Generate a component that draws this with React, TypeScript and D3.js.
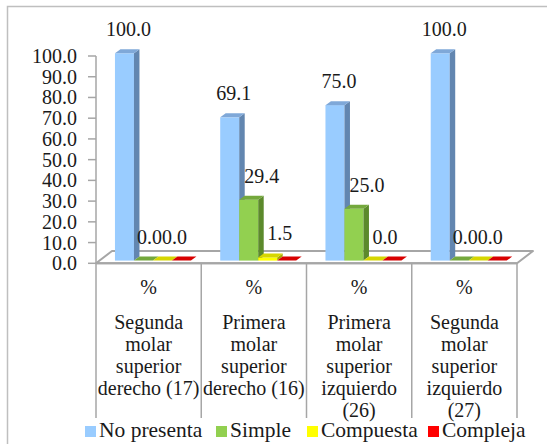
import React, { useEffect, useRef } from "react";
import * as d3 from "d3";

const categories = [
  "Segunda molar superior derecho (17)",
  "Primera molar superior derecho (16)",
  "Primera molar superior izquierdo (26)",
  "Segunda molar superior izquierdo (27)",
];
const categoryLines = [
  ["Segunda", "molar", "superior", "derecho (17)"],
  ["Primera", "molar", "superior", "derecho (16)"],
  ["Primera", "molar", "superior", "izquierdo", "(26)"],
  ["Segunda", "molar", "superior", "izquierdo", "(27)"],
];
const unitLabel = "%";
const series = ["No presenta", "Simple", "Compuesta", "Compleja"];
const noPresenta = [100.0, 69.1, 75.0, 100.0];
const simple = [0.0, 29.4, 25.0, 0.0];
const compuesta = [0.0, 1.5, 0.0, 0.0];
const compleja = [0.0, 0.0, 0.0, 0.0];
const yTicks = [0, 10, 20, 30, 40, 50, 60, 70, 80, 90, 100];
const showLabel = [true, true, true, false];

const values = [noPresenta, simple, compuesta, compleja];
const colors = [
  { front: "#99CCFF", top: "#7FA8D8", side: "#6286B0" },
  { front: "#92D050", top: "#74A83C", side: "#5C8A2C" },
  { front: "#FFFF00", top: "#D6D600", side: "#A8A800" },
  { front: "#FF0000", top: "#D80000", side: "#A00000" },
];

export default function App() {
  const ref = useRef<SVGSVGElement>(null);

  useEffect(() => {
    const svg = d3.select(ref.current);
    svg.selectAll("*").remove();
    const g = svg.append("g");
    const T = (sel: any) =>
      sel.attr("font-family", "Liberation Serif").style("font-family", "Liberation Serif").attr("fill", "#1a1a1a");

    const x0 = 96, x1 = 517;
    const y = d3.scaleLinear().domain([0, 100]).range([263.3, 56]);
    const xc = d3.scaleBand().domain(categories).range([x0, x1]);
    const bw = xc.bandwidth();
    const xs = d3.scaleBand().domain(series).range([bw * 0.146, bw * 0.146 + 76]);
    const w = xs.bandwidth();
    const floorD = { dx: 16, dy: -12.3 };
    const barFront = { dx: 3.6, dy: -2.7 };
    const barD = { dx: 5.5, dy: -4 };
    const labelOff = [4, 13, 12, 12];
    const grid = "#A6A6A6";
    const pts = (a: number[][]) => a.map((p) => p.join(",")).join(" ");

    g.append("rect").attr("width", 547).attr("height", 444).attr("fill", "#fff");
    g.append("rect").attr("x", 7.5).attr("y", 6.5).attr("width", 600).attr("height", 600)
      .attr("fill", "none").attr("stroke", "#BFBFBF").attr("stroke-width", 1.5);

    g.append("polygon")
      .attr("points", pts([
        [x0, y(0)], [x1, y(0)],
        [x1 + floorD.dx, y(0) + floorD.dy], [x0 + floorD.dx, y(0) + floorD.dy],
      ]))
      .attr("fill", "#fff").attr("stroke", grid).attr("stroke-width", 2).attr("stroke-linejoin", "round");

    g.append("line").attr("x1", x0).attr("x2", x0).attr("y1", y(100)).attr("y2", y(0))
      .attr("stroke", grid).attr("stroke-width", 1.5);
    yTicks.forEach((t) => {
      g.append("line").attr("x1", x0 - 8).attr("x2", x0).attr("y1", y(t)).attr("y2", y(t))
        .attr("stroke", grid).attr("stroke-width", 1.5);
      T(g.append("text").attr("x", 77).attr("y", y(t) + 7).attr("text-anchor", "end")
        .attr("font-size", 20).text(d3.format(".1f")(t)));
    });

    [...categories.map((c) => xc(c) as number), x1].forEach((xx) => {
      g.append("line").attr("x1", xx).attr("x2", xx).attr("y1", y(0)).attr("y2", 418)
        .attr("stroke", grid).attr("stroke-width", 1.5);
    });
    g.append("line").attr("x1", x0).attr("x2", x1).attr("y1", y(0)).attr("y2", y(0))
      .attr("stroke", grid).attr("stroke-width", 2);

    const lab = g.append("g");
    categories.forEach((c, ci) => {
      series.forEach((s, si) => {
        const v = values[si][ci];
        const bx = (xc(c) as number) + (xs(s) as number) + barFront.dx;
        const base = y(0) + barFront.dy;
        const top = y(v) + barFront.dy;
        const col = colors[si];
        if (v > 0) {
          g.append("rect").attr("x", bx).attr("y", top).attr("width", w).attr("height", base - top)
            .attr("fill", col.front);
          g.append("polygon").attr("points", pts([
            [bx + w, top], [bx + w + barD.dx, top + barD.dy],
            [bx + w + barD.dx, base + barD.dy], [bx + w, base],
          ])).attr("fill", col.side);
        }
        g.append("polygon").attr("points", pts([
          [bx, top], [bx + w, top],
          [bx + w + barD.dx, top + barD.dy], [bx + barD.dx, top + barD.dy],
        ])).attr("fill", col.top);
        if (showLabel[si]) {
          const off = si === 1 && v === 0 ? 6 : labelOff[si];
          T(lab.append("text").attr("x", bx + w / 2 + off).attr("y", top - 17)
            .attr("text-anchor", "middle").attr("font-size", 20).text(d3.format(".1f")(v)));
        }
      });
    });
    lab.raise();

    categories.forEach((c, ci) => {
      const cx = (xc(c) as number) + bw / 2;
      T(g.append("text").attr("x", cx).attr("y", 294).attr("text-anchor", "middle")
        .attr("font-size", 20).text(unitLabel));
      categoryLines[ci].forEach((ln, li) => {
        T(g.append("text").attr("x", cx).attr("y", 329 + li * 22).attr("text-anchor", "middle")
          .attr("font-size", 20).text(ln));
      });
    });

    const legendX = [85, 216, 307, 428];
    series.forEach((s, si) => {
      g.append("rect").attr("x", legendX[si]).attr("y", 426).attr("width", 11).attr("height", 11)
        .attr("fill", colors[si].front);
      T(g.append("text").attr("x", legendX[si] + 14).attr("y", 437).attr("font-size", 21.5).text(s));
    });
  }, []);

  return (
    <div style={{ position: "absolute", left: 0, top: 0, fontFamily: "Liberation Serif" }}>
      <svg ref={ref} width={547} height={444} style={{ display: "block", fontFamily: "Liberation Serif" }} />
    </div>
  );
}
